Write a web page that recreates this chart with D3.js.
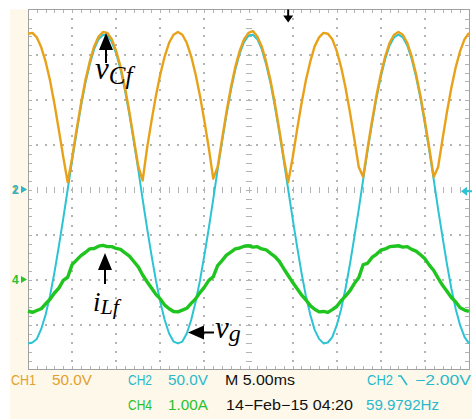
<!DOCTYPE html>
<html>
<head>
<meta charset="utf-8">
<script src="https://cdn.jsdelivr.net/npm/d3@7"></script>
<style>
  html, body { margin: 0; padding: 0; background: #ffffff; }
  svg { display: block; }
</style>
</head>
<body>
<svg id="scope" width="472" height="419"></svg>
<script>
// Acquisition: one sample every 0.5 ms, 50 ms across the screen (5 ms/div)
const SAMPLE_MS = 0.5;

// CH2: grid voltage v_g (V)
const vgVolts = [
  -171, -170, -166, -155, -139, -118, -92, -63, -32, 0,
  32, 63, 92, 118, 139, 156, 167, 172, 171, 164,
  151, 133, 110, 83, 53, 22, -11, -43, -73, -101,
  -125, -145, -160, -169, -171, -169, -160, -145, -125, -101,
  -73, -43, -11, 22, 53, 83, 110, 133, 151, 164,
  171, 172, 167, 156, 139, 118, 92, 63, 32, 0,
  -32, -63, -92, -118, -139, -156, -166, -171, -170, -164,
  -151, -133, -110, -83, -53, -22, 11, 43, 73, 101,
  125, 145, 160, 169, 172, 169, 160, 145, 125, 101,
  73, 43, 11, -22, -53, -83, -110, -133, -151, -164,
  -171
];

// CH1: filter capacitor voltage v_Cf (V)
const vCfVolts = [
  173, 174, 169, 158, 142, 121, 95, 66, 36, 8,
  35, 66, 95, 121, 142, 159, 170, 175, 174, 167,
  154, 136, 113, 86, 56, 26, 10, 46, 76, 104,
  128, 148, 163, 172, 175, 172, 163, 148, 128, 104,
  76, 46, 12, 25, 56, 86, 113, 136, 154, 167,
  174, 176, 170, 159, 142, 121, 95, 66, 35, 8,
  35, 66, 95, 121, 142, 159, 169, 174, 173, 167,
  154, 136, 113, 86, 56, 25, 14, 46, 76, 104,
  128, 148, 163, 172, 175, 172, 163, 148, 128, 104,
  76, 46, 14, 25, 56, 86, 113, 136, 154, 167,
  174
];

// CH4: filter inductor current i_Lf (A)
const iLfAmps = [
  -0.70, -0.73, -0.69, -0.65, -0.54, -0.44, -0.30, -0.19, -0.02, 0.05,
  0.33, 0.43, 0.53, 0.60, 0.68, 0.69, 0.74, 0.76, 0.73, 0.73,
  0.69, 0.67, 0.59, 0.52, 0.40, 0.28, 0.10, -0.05, -0.19, -0.33,
  -0.43, -0.57, -0.65, -0.71, -0.72, -0.68, -0.64, -0.53, -0.43, -0.29,
  -0.17, -0.02, 0.06, 0.31, 0.42, 0.54, 0.61, 0.68, 0.70, 0.74,
  0.75, 0.72, 0.73, 0.68, 0.66, 0.58, 0.51, 0.40, 0.24, 0.09,
  -0.06, -0.20, -0.34, -0.45, -0.58, -0.66, -0.72, -0.71, -0.73, -0.67,
  -0.60, -0.47, -0.37, -0.25, -0.09, 0.04, 0.33, 0.36, 0.49, 0.56,
  0.65, 0.68, 0.73, 0.74, 0.75, 0.72, 0.73, 0.67, 0.63, 0.55,
  0.46, 0.32, 0.20, 0.03, -0.13, -0.26, -0.40, -0.50, -0.63, -0.68,
  -0.71
];

// Readout lines under the screen
const readoutTexts = ["CH1", "50.0V", "CH2", "50.0V", "M 5.00ms", "CH2", "\u22122.00V",
                      "CH4", "1.00A", "14\u2212Feb\u221215 04:20", "59.9792Hz"];

// Channel ground markers on the left edge
const groundMarkers = ["1", "2", "4"];

// ---------------------------------------------------------------------------
const ORANGE = "#e8a21a", CYAN = "#2cc4d2", GREEN = "#1fc41f";
const ORANGE_TXT = "#e2a12e", CYAN_TXT = "#29b9cc", GREEN_TXT = "#2cc12c";
const CREAM = "#fdf8ea";

const svg = d3.select("#scope");
const W = 472, H = 419;
const plot = { left: 28, right: 469, top: 9.5, bottom: 369.5 };

const x = d3.scaleLinear().domain([0, 50]).range([plot.left, plot.right]);      // ms
const yV = d3.scaleLinear().domain([-200, 200]).range([plot.bottom, plot.top]); // 50 V/div, ground at centre
const yA = d3.scaleLinear().domain([-2, 6]).range([plot.bottom, plot.top]);     // 1 A/div, ground 2 div below centre

// Panels
svg.append("rect").attr("width", W).attr("height", H).attr("fill", "#fff");
svg.append("rect").attr("x", 10).attr("y", plot.top)
  .attr("width", plot.left - 10).attr("height", H - plot.top).attr("fill", CREAM);
svg.append("rect").attr("x", 10).attr("y", plot.bottom)
  .attr("width", W - 10).attr("height", H - plot.bottom).attr("fill", CREAM);
svg.append("rect").attr("x", plot.left).attr("y", plot.top)
  .attr("width", plot.right - plot.left).attr("height", plot.bottom - plot.top).attr("fill", "#fff");

// Graticule
const grid = svg.append("g").attr("shape-rendering", "crispEdges");
const majorT = d3.range(5, 50, 5);
const majorV = d3.range(-150, 151, 50);
const minorT = d3.range(1, 50, 1);
const minorV = d3.range(-190, 191, 10);
const GRID_COL = "#b3b3b3";

majorT.filter(t => t !== 25).forEach(t => {
  minorV.forEach(v => {
    grid.append("rect").attr("x", Math.round(x(t)) - 1).attr("y", Math.round(yV(v)) - 1)
      .attr("width", 1.6).attr("height", 1.6).attr("fill", GRID_COL);
  });
});
majorV.filter(v => v !== 0).forEach(v => {
  minorT.forEach(t => {
    grid.append("rect").attr("x", Math.round(x(t)) - 1).attr("y", Math.round(yV(v)) - 1)
      .attr("width", 1.6).attr("height", 1.6).attr("fill", GRID_COL);
  });
});
// centre cross with tick marks
minorV.forEach(v => {
  grid.append("line").attr("x1", x(25) - 3).attr("x2", x(25) + 3)
    .attr("y1", Math.round(yV(v)) + 0.5).attr("y2", Math.round(yV(v)) + 0.5)
    .attr("stroke", GRID_COL).attr("stroke-width", 1.3);
});
minorT.forEach(t => {
  grid.append("line").attr("y1", yV(0) - 3).attr("y2", yV(0) + 3)
    .attr("x1", Math.round(x(t)) + 0.5).attr("x2", Math.round(x(t)) + 0.5)
    .attr("stroke", GRID_COL).attr("stroke-width", 1.3);
});
// edge ticks
minorT.forEach(t => {
  const px = Math.round(x(t)) + 0.5;
  grid.append("line").attr("x1", px).attr("x2", px).attr("y1", plot.top).attr("y2", plot.top + 3.5)
    .attr("stroke", GRID_COL);
  grid.append("line").attr("x1", px).attr("x2", px).attr("y1", plot.bottom).attr("y2", plot.bottom - 3.5)
    .attr("stroke", GRID_COL);
});
minorV.forEach(v => {
  const py = Math.round(yV(v)) + 0.5;
  grid.append("line").attr("y1", py).attr("y2", py).attr("x1", plot.left).attr("x2", plot.left + 4)
    .attr("stroke", GRID_COL);
  grid.append("line").attr("y1", py).attr("y2", py).attr("x1", plot.right).attr("x2", plot.right - 4)
    .attr("stroke", GRID_COL);
});
grid.append("rect").attr("x", plot.left).attr("y", plot.top)
  .attr("width", plot.right - plot.left).attr("height", plot.bottom - plot.top)
  .attr("fill", "none").attr("stroke", "#a0a0a0");

// Traces
const tOf = (d, i) => x(i * SAMPLE_MS);
const voltLine = d3.line().x(tOf).y(d => yV(d)).curve(d3.curveLinear);
const ampLine = d3.line().x(tOf).y(d => yA(d)).curve(d3.curveLinear);

const traces = svg.append("g").attr("fill", "none").attr("stroke-linejoin", "round");
traces.append("path").attr("d", voltLine(vgVolts)).attr("stroke", CYAN).attr("stroke-width", 2);
traces.append("path").attr("d", ampLine(iLfAmps)).attr("stroke", GREEN).attr("stroke-width", 3.4);
traces.append("path").attr("d", voltLine(vCfVolts)).attr("stroke", ORANGE).attr("stroke-width", 2.4);

// Ground markers
const marker = svg.append("g").attr("font-family", "Liberation Sans, Arial, sans-serif")
  .attr("font-size", 12).attr("font-weight", "bold");
function groundMark(label, color, py) {
  marker.append("text").attr("x", 12).attr("y", py + 4.5).attr("fill", color).text(label);
  marker.append("path").attr("d", `M21,${py - 3.5} L27,${py} L21,${py + 3.5} Z`).attr("fill", color);
}
groundMark(groundMarkers[0], ORANGE_TXT, yV(0));
groundMark(groundMarkers[1], CYAN_TXT, yV(0));
groundMark(groundMarkers[2], GREEN_TXT, yA(0));

// Trigger position (top) and trigger level (right)
const trigX = x(29.5);
svg.append("path")
  .attr("d", `M${trigX - 1},${plot.top} h2 v6 h4 l-5,7 l-5,-7 h4 Z`).attr("fill", "#000");
const lvlY = yV(-2);
svg.append("path")
  .attr("d", `M${W - 11},${lvlY} l6,-4.5 v3.5 h5 v2 h-5 v3.5 Z`).attr("fill", CYAN);

// Annotations
const ann = svg.append("g").attr("font-family", "Liberation Serif, Times New Roman, serif")
  .attr("font-style", "italic").attr("fill", "#000");
function arrowUp(cx, tipY, tailY) {
  ann.append("path").attr("d",
    `M${cx},${tipY} L${cx + 7},${tipY + 17} L${cx + 1},${tipY + 17} L${cx + 1},${tailY} ` +
    `L${cx - 1},${tailY} L${cx - 1},${tipY + 17} L${cx - 7},${tipY + 17} Z`);
}
function arrowLeft(tipX, cy, tailX) {
  ann.append("path").attr("d",
    `M${tipX},${cy} L${tipX + 16},${cy - 7} L${tipX + 16},${cy - 1} L${tailX},${cy - 1} ` +
    `L${tailX},${cy + 1} L${tipX + 16},${cy + 1} L${tipX + 16},${cy + 7} Z`);
}
function symbol(px, py, main, sub, mainSize, subSize, subDy) {
  const t = ann.append("text").attr("x", px).attr("y", py);
  t.append("tspan").attr("font-size", mainSize).text(main);
  t.append("tspan").attr("font-size", subSize).attr("dy", subDy).text(sub);
}

arrowUp(106, 33, 63);
symbol(95, 79, "v", "Cf", 31, 25, 5);

arrowUp(105, 253, 284);
symbol(93, 311, "i", "Lf", 27, 22, 3);

arrowLeft(188, 332.5, 214);
symbol(215, 338, "v", "g", 31, 24, 3);

// Readout
const ro = svg.append("g").attr("font-family", "Liberation Sans, Arial, sans-serif").attr("font-size", 14);
const readoutLayout = [
  { x: 11, y: 385, w: 25, c: ORANGE_TXT },
  { x: 52, y: 385, w: 40, c: ORANGE_TXT },
  { x: 128, y: 385, w: 24, c: CYAN_TXT },
  { x: 168, y: 385, w: 40, c: CYAN_TXT },
  { x: 225, y: 385, w: 70, c: "#111" },
  { x: 367, y: 385, w: 26, c: CYAN_TXT },
  { x: 415, y: 385, w: 56, c: CYAN_TXT },
  { x: 128, y: 410, w: 24, c: GREEN_TXT },
  { x: 168, y: 410, w: 40, c: GREEN_TXT },
  { x: 226, y: 410, w: 127, c: "#111" },
  { x: 366, y: 410, w: 73, c: CYAN_TXT }
];
readoutTexts.forEach((s, i) => {
  const L = readoutLayout[i];
  ro.append("text").attr("x", L.x).attr("y", L.y).attr("fill", L.c)
    .attr("textLength", L.w).attr("lengthAdjust", "spacingAndGlyphs").text(s);
});
// falling-edge trigger slope symbol
ro.append("path").attr("d", "M398,376 h3 l6,9").attr("fill", "none")
  .attr("stroke", CYAN_TXT).attr("stroke-width", 1.6);
</script>
</body>
</html>
